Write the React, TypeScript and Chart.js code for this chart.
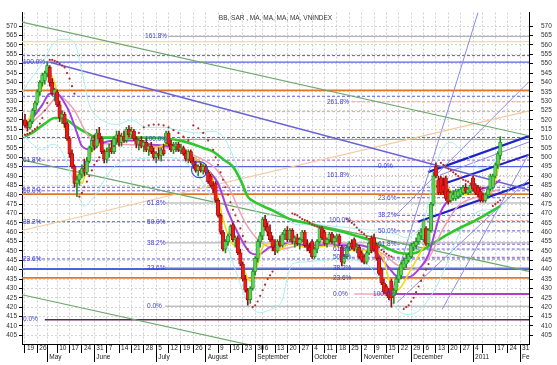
import React, { useEffect, useRef } from "react";
import { Chart, registerables } from "chart.js";

Chart.register(...registerables);

const TITLE = "BB, SAR , MA, MA, MA, MA, VNINDEX";
const FONT = '"Liberation Sans", Arial, sans-serif';

const X_MIN = -1.2;
const X_MAX = 203.6;
const Y_MIN = 400.3;
const Y_MAX = 577.3;

const yTickValues = [405, 410, 415, 420, 425, 430, 435, 440, 445, 450, 455, 460, 465, 470, 475, 480, 485, 490, 495, 500, 505, 510, 515, 520, 525, 530, 535, 540, 545, 550, 555, 560, 565, 570];

// first trading day index of each week
const weekTickIdx = [0, 5, 9, 13, 18, 23, 28, 33, 38, 43, 48, 53, 58, 63, 68, 73, 78, 83, 88, 93, 96, 101, 106, 111, 116, 121, 126, 131, 136, 141, 146, 151, 156, 161, 166, 171, 176, 181, 185, 190, 195, 200];
const weekDayLabels = ["19", "26", "", "10", "17", "24", "31", "7", "14", "21", "28", "5", "12", "19", "26", "2", "9", "16", "23", "30", "6", "13", "20", "27", "4", "11", "18", "25", "2", "9", "15", "22", "29", "6", "13", "20", "27", "4", "", "17", "24", "31"];
const weekMonthLabels = ["", "", "May", "", "", "", "June", "", "", "", "", "July", "", "", "", "August", "", "", "", "September", "", "", "", "", "October", "", "", "", "November", "", "", "", "December", "", "", "", "", "2011", "", "", "", "Fe"];
const monthTickIdx = [9, 28, 53, 73, 93, 116, 136, 156, 181, 200];

// daily candles (trading-day index = position in array)
const opens = [520,517,516,519,525,529,535,540,541,545,548,540,534,535,528,521,523,518,510,502,495,486,488,491,494,492,498,505,509,506,513,510,503,499,503,505,503,510,512,508,511,509,515,512,514,510,507,509,506,508,504,506,503,500,502,501,504,508,513,507,504,506,507,504,505,502,499,503,498,496,493,495,493,495,492,490,485,486,477,469,460,451,455,459,464,456,457,449,443,435,429,424,430,439,446,455,458,467,463,460,456,452,450,455,453,459,461,456,461,455,457,454,456,460,453,452,455,447,451,455,462,460,454,456,459,455,457,458,452,444,447,452,454,456,451,452,449,447,444,449,457,457,453,446,440,433,431,428,434,426,429,435,437,441,443,445,447,452,453,455,458,456,462,454,461,475,495,488,489,485,489,482,477,478,478,479,480,481,484,481,482,489,485,484,482,480,477,480,483,484,490,496,501];
const highs = [523,519,520,526,530,536,541,545,546,551,549,542,537,536,530,525,524,519,511,504,496,490,493,496,499,500,506,511,512,515,516,511,504,505,507,509,511,514,514,513,514,516,517,516,515,511,510,511,509,510,507,508,505,503,505,505,507,514,514,509,508,508,508,507,506,504,504,504,500,498,496,497,496,496,493,491,487,487,478,470,461,456,459,464,465,458,458,451,444,437,430,431,440,447,456,460,468,469,465,464,458,456,456,458,460,462,463,462,462,458,459,457,461,461,456,454,456,452,456,463,463,461,457,460,460,458,459,459,453,448,453,455,456,457,454,453,450,448,450,455,458,459,454,447,441,435,432,430,435,430,436,441,444,446,448,449,454,455,457,460,462,467,463,462,476,492,497,490,490,489,490,483,482,482,483,483,484,485,486,484,486,490,486,485,483,481,481,484,491,491,497,503,511];
const lows = [516,514,515,518,523,528,533,538,539,543,538,533,530,527,519,518,516,509,500,494,484,479,485,489,490,491,497,503,504,505,508,502,497,497,500,502,502,507,506,506,508,508,511,510,509,505,504,505,503,503,501,502,499,497,499,498,501,507,506,503,502,503,503,502,501,498,497,497,494,492,490,492,491,491,486,484,481,476,468,459,450,449,453,458,455,452,448,442,434,428,421,422,429,437,444,452,456,461,458,455,450,448,449,452,452,456,455,455,454,452,453,451,455,452,450,449,446,446,449,454,456,453,452,454,454,453,455,453,442,443,446,450,451,450,449,446,444,443,443,448,449,450,445,437,432,427,426,424,420,422,427,433,435,440,441,444,446,450,451,454,456,455,453,453,460,474,489,480,480,480,477,475,476,477,477,478,479,480,481,480,481,482,480,479,476,476,476,478,482,483,489,494,499];
const closes = [517,516,519,525,529,535,540,544,545,549,540,534,536,528,521,523,518,510,502,495,486,488,491,494,492,498,505,509,506,513,510,503,499,503,505,503,510,512,508,511,509,515,512,514,510,507,509,506,508,504,506,503,500,502,501,504,502,513,507,504,506,507,504,505,502,499,503,498,496,493,495,493,495,492,487,485,483,477,469,460,451,455,458,463,456,457,449,443,435,429,424,430,439,446,455,458,467,463,460,456,452,450,455,453,459,461,456,461,455,457,454,456,460,453,452,450,447,451,455,462,457,454,456,459,455,457,458,454,444,447,452,454,452,451,452,447,445,444,449,454,450,451,446,438,433,428,427,425,425,429,435,440,443,445,446,448,453,454,455,459,460,466,454,461,475,490,490,481,481,482,478,476,481,480,482,482,483,484,482,483,485,483,481,480,477,477,480,483,490,490,496,502,508];

// moving averages: [trading-day index, value]
const maFast: [number, number][] = [[0,517],[3,524],[5,530],[7,538],[9,546],[11,543],[13,535],[15,521],[17,511],[19,498],[21,490],[23,486],[25,495],[27,503],[30,507],[33,503],[36,507],[39,509],[42,511],[45,509],[49,507],[53,505],[57,507],[61,506],[65,503],[69,499],[73,495],[76,488],[78,478],[80,467],[83,455],[86,451],[88,442],[91,434],[94,443],[96,452],[99,454],[102,450],[107,454],[113,452],[118,452],[123,453],[129,451],[135,450],[141,451],[145,445],[147,435],[149,428],[152,431],[155,438],[158,445],[161,452],[163,456],[165,479],[167,488],[170,485],[174,480],[178,480],[182,483],[186,480],[189,484],[191,493],[192,500]];
const maMid: [number, number][] = [[0,517],[3,521],[7,528],[10,534],[13,534],[16,529],[18,524],[21,513],[23,506],[27,504],[30,507],[37,509],[44,509],[50,507],[57,506],[64,503],[70,498],[74,493],[78,486],[82,471],[87,457],[91,449],[94,448],[99,452],[106,454],[115,453],[122,453],[130,453],[135,453],[142,449],[147,441],[151,436],[155,436],[159,440],[163,448],[166,462],[168,471],[173,479],[178,481],[184,483],[189,485],[192,488]];
const maSlow: [number, number][] = [[0,515],[8,525],[14,533],[16,531],[20,525],[24,515],[28,508],[38,507],[50,506],[62,504],[70,500],[77,494],[83,482],[89,465],[95,455],[103,451],[115,454],[127,454],[139,452],[145,448],[151,442],[157,440],[163,446],[169,462],[175,474],[183,479],[192,483]];
const maLong: [number, number][] = [[0,511],[4,514],[8,518],[12,521],[15,521],[18,519],[21,516],[25,513],[28,511],[34,510.5],[46,510.5],[57,510],[64,508.5],[68,507],[72,505],[76,503],[80,499],[84,495],[87,488],[90,479],[93,476],[96,474],[101,471],[107,467],[115,464.5],[122,462],[129,460],[134,458],[139,456],[143,453.5],[146,451.6],[151,449],[155,448.5],[158,449],[162,451.6],[166,455],[171,459],[176,462.5],[181,465.6],[185,468.5],[188,470.8],[192,474]];

// Bollinger bands
const bbUpper: [number, number][] = [[-1,535],[3,543],[7,550],[11,560],[14,563],[17,563],[20,561],[23,546],[26,528],[30,521],[37,517.5],[43,520],[49,516],[55,516],[64,514],[70,513],[76,514],[80,511],[83,504],[86,494],[89,483],[92,474],[96,468],[100,470],[103,471],[106,467],[110,464],[118,464],[126,463],[134,462],[140,461],[146,460],[150,459],[154,457],[158,460],[162,470],[165,490],[168,503],[172,508],[176,504],[180,499],[184,494],[188,496],[192,503]];
const bbLower: [number, number][] = [[-1,512],[3,507],[7,504],[11,507],[14,505],[17,497],[20,486],[22,478],[24,474],[26,476],[29,481],[33,490],[38,497],[45,499],[55,500],[62,499],[66,496],[70,490],[74,482],[78,470],[82,452],[86,436],[89,425],[92,419],[95,417],[98,418],[101,420],[104,424],[106,436],[108,443],[112,444],[120,445],[128,446],[134,445],[139,442],[143,435],[147,425],[151,418],[155,416],[159,418],[163,424],[167,433],[171,445],[175,458],[179,466],[183,471],[187,472],[192,473]];

// parabolic SAR
const sarPoints: [number, number][] = [[0,512],[1,512.5],[2,513],[3,514],[4,515],[5,516],[6,518],[7,521],[8,525],[9,529],[10,552],[11,552],[12,551.5],[13,551],[14,550],[15,549],[16,548],[17,545],[18,542],[19,538],[20,534],[22,479],[23,481],[24,484],[25,487],[26,490],[27,493],[28,496],[29,498],[30,500],[32,502],[34,504],[36,506],[38,508],[40,510],[42,511],[44,512],[46,513],[48,516],[50,517],[52,517.5],[54,517.5],[56,517],[58,516],[60,514.5],[62,513],[64,511],[66,509],[68,517],[70,515.5],[72,513],[74,509],[76,504],[77,500],[78,496],[79,492],[80,488],[81,484],[82,480],[83,476],[84,472],[85,469],[86,466],[87,462],[88,458],[89,455],[90,451],[92,420],[93,421],[94,423],[95,426],[96,429],[97,432],[98,435],[99,437],[100,439],[108,470],[109,469.5],[110,469],[111,468],[112,467],[113,466.5],[114,466],[115,465],[116,464],[117,463.5],[118,463],[119,462.5],[120,462],[130,467],[131,466],[132,465],[133,464],[134,462.5],[135,461],[136,460],[137,459],[138,457.5],[139,456.5],[140,455],[141,454],[142,453],[143,452],[144,450.5],[145,449.5],[146,448.5],[147,447.5],[148,447],[153,419],[154,420],[155,421],[156,423],[157,425],[158,428],[159,431],[160,434],[161,437],[162,440],[163,443],[168,497],[169,496],[170,495],[171,494],[172,493],[173,492],[174,491],[175,490],[176,489],[177,488],[178,487.5],[179,487],[180,486],[181,485.5],[182,485],[183,484.5],[184,484],[185,483.5],[189,474],[190,475],[191,476],[192,477]];

// horizontal levels (value, from index, to index)
const levelValues = [564.6, 561.8, 554.3, 550.8, 535.7, 532.6, 529.6, 524.4, 510.6, 509.5, 498.5, 495.0, 490.2, 484.0, 482.1, 480.3, 478.4, 475.6, 469.0, 466.2, 465.6, 460.7, 454.3, 453.6, 451.0, 446.6, 445.7, 441.0, 440.3, 435.6, 427.0, 427.0, 420.5, 413.3];
const levelFrom = [57.8, X_MIN, X_MIN, X_MIN, X_MIN, X_MIN, 132.1, X_MIN, X_MIN, 57.4, X_MIN, X_MIN, 131.3, X_MIN, X_MIN, X_MIN, 150.3, 56.6, 150.3, 131.5, X_MIN, 150.3, 56.6, 150.3, 132, 132, X_MIN, 56.6, X_MIN, X_MIN, 147, 133, 56.6, 8];
const levelTo = [X_MAX, X_MAX, X_MAX, X_MAX, X_MAX, X_MAX, X_MAX, X_MAX, X_MAX, X_MAX, X_MAX, X_MAX, X_MAX, X_MAX, X_MAX, X_MAX, X_MAX, X_MAX, X_MAX, X_MAX, X_MAX, X_MAX, X_MAX, X_MAX, X_MAX, X_MAX, X_MAX, X_MAX, X_MAX, X_MAX, X_MAX, 146, X_MAX, X_MAX];
const levelKind = ["gray", "yellow", "blueDash", "blueSolid", "orange", "blueDash", "salmonDash", "salmonDash", "blueDash", "gray", "purpleDash", "blueSolid", "salmonDot", "blueDash", "purpleDash", "orange", "blueDash", "gray", "blueDash", "salmonDash", "blueDash", "blueDash", "gray", "purpleDash", "blueDash", "purpleDash", "blueDash", "gray", "blueThick", "orange", "purpleThick", "pink", "gray", "darkPurple"];

// trend lines [index, value] start / end
const trendStart: [number, number][] = [[-1.2, 572.2], [-1.2, 498.6], [-1.2, 426.6], [10.1, 550.8], [-1.2, 460.9], [147, 423], [149.5, 468.7], [150.3, 422.5], [168.5, 418.8], [162.8, 492.1], [167.7, 490.5], [165.7, 484.3], [158.8, 465.6]];
const trendEnd: [number, number][] = [[203.6, 511.5], [203.6, 439.1], [100, 397.1], [203.6, 482.5], [203.6, 524.8], [183, 577.3], [203.6, 540.4], [203.6, 488.4], [203.6, 502], [203.6, 511.3], [203.6, 508.2], [203.6, 501.4], [203.6, 486.4]];
const trendKind = ["green", "green", "green", "violet", "peach", "thin", "thin", "thin", "thin", "thick", "thin", "thick", "thick"];

// circled area
const circlePoint: [number, number][] = [[70.5, 493.4]];

// fibonacci labels
const fibText = ["161.8%", "100.0%", "261.8%", "100.0%", "61.8%", "0.0%", "161.8%", "50.0%", "23.6%", "61.8%", "38.2%", "38.2%", "50.0%", "100.0%", "50.0%", "38.2%", "61.8%", "61.8%", "50.0%", "23.6%", "23.6%", "38.2%", "23.6%", "0.0%", "100.0%", "0.0%", "0.0%"];
const fibIdx = [48.5, -0.8, 122, 48.5, -0.8, 142.6, 122, -0.8, 142.6, 49.3, 142.6, -0.8, 49.3, 122.8, 142.6, 49.3, 142.6, 124.4, 124.4, -0.8, 49.3, 124.4, 124.4, 124.4, 140.6, 49.3, -0.8];
const fibValue = [564.6, 550.8, 529.6, 509.8, 498.5, 495.0, 490.2, 482.1, 478.4, 475.6, 469.0, 465.6, 465.6, 466.2, 460.7, 454.3, 453.6, 451.0, 446.6, 445.7, 441.0, 441.0, 435.6, 427.0, 427.0, 420.5, 413.3];

const LEVEL_STYLE: Record<string, { c: string; w: number; d: number[] }> = {
  gray: { c: "#a4a4a4", w: 1, d: [] },
  yellow: { c: "#f2e27a", w: 1.3, d: [] },
  blueDash: { c: "#5a5ad8", w: 1, d: [3, 2] },
  blueSolid: { c: "#5a64dc", w: 1.4, d: [] },
  orange: { c: "#e0782a", w: 1.8, d: [] },
  salmonDash: { c: "#f0a090", w: 1, d: [3, 2] },
  salmonDot: { c: "#f0a090", w: 1, d: [1, 2] },
  purpleDash: { c: "#8c5ad0", w: 1, d: [3, 2] },
  blueThick: { c: "#4e62e0", w: 2, d: [] },
  purpleThick: { c: "#b23cc4", w: 2, d: [] },
  pink: { c: "#f07c90", w: 1, d: [] },
  darkPurple: { c: "#6c2050", w: 1.5, d: [] },
};
const TREND_STYLE: Record<string, { c: string; w: number }> = {
  green: { c: "#6aa86a", w: 1.2 },
  violet: { c: "#6a62d6", w: 1.5 },
  peach: { c: "#f5c9a0", w: 1.2 },
  thin: { c: "#8c8ce6", w: 1 },
  thick: { c: "#1c24c6", w: 2.2 },
};

const toXY = (arr: [number, number][]) => arr.map(([x, y]) => ({ x, y }));

const fibLabelPlugin = {
  id: "fibLabels",
  afterDatasetsDraw(chart: any) {
    const { ctx, scales } = chart;
    const xs = scales.x;
    const ys = scales.y;
    ctx.save();
    ctx.font = `6.5px ${FONT}`;
    ctx.fillStyle = "#3a3ad2";
    ctx.textAlign = "left";
    ctx.textBaseline = "middle";
    fibText.forEach((t, i) => {
      ctx.fillText(t, xs.getPixelForValue(fibIdx[i]), ys.getPixelForValue(fibValue[i]));
    });
    ctx.fillStyle = "#333333";
    ctx.textAlign = "center";
    const ca = chart.chartArea;
    ctx.fillText(TITLE, (ca.left + ca.right) / 2, ca.top + 6);
    ctx.restore();
  },
};

export default function App() {
  const canvasRef = useRef<HTMLCanvasElement | null>(null);

  useEffect(() => {
    document.body.style.margin = "0";
    const canvas = canvasRef.current;
    if (!canvas) return;

    const datasets: any[] = [];

    levelValues.forEach((v, i) => {
      const s = LEVEL_STYLE[levelKind[i]];
      datasets.push({
        type: "line",
        label: "level" + i,
        data: [{ x: levelFrom[i], y: v }, { x: levelTo[i], y: v }],
        borderColor: s.c,
        borderWidth: s.w,
        borderDash: s.d,
        pointRadius: 0,
        fill: false,
        order: 100,
      });
    });

    trendStart.forEach((p, i) => {
      const s = TREND_STYLE[trendKind[i]];
      datasets.push({
        type: "line",
        label: "trend" + i,
        data: [{ x: p[0], y: p[1] }, { x: trendEnd[i][0], y: trendEnd[i][1] }],
        borderColor: s.c,
        borderWidth: s.w,
        pointRadius: 0,
        fill: false,
        order: 95,
      });
    });

    const curve = (label: string, pts: [number, number][], color: string, width: number, order: number) => ({
      type: "line",
      label,
      data: toXY(pts),
      borderColor: color,
      borderWidth: width,
      pointRadius: 0,
      tension: 0.4,
      cubicInterpolationMode: "monotone",
      fill: false,
      order,
    });

    datasets.push(curve("BB upper", bbUpper, "#a8eeee", 1, 90));
    datasets.push(curve("BB lower", bbLower, "#a8eeee", 1, 90));
    datasets.push(curve("MA long", maLong, "#2ec82e", 2.6, 60));
    datasets.push(curve("MA slow", maSlow, "#eda0b4", 1.5, 58));
    datasets.push(curve("MA mid", maMid, "#a440e0", 2, 56));
    datasets.push(curve("MA fast", maFast, "#f2dc10", 1.6, 54));

    const isUp = (i: number) => closes[i] >= opens[i];
    const fillCol = opens.map((_, i) => (isUp(i) ? "#5ad25a" : "#ee1a1a"));
    const edgeCol = opens.map((_, i) => (isUp(i) ? "#238c23" : "#941010"));

    datasets.push({
      type: "bar",
      label: "wick",
      data: opens.map((_, i) => ({ x: i, y: [lows[i], highs[i]] })),
      backgroundColor: edgeCol,
      borderWidth: 0,
      barThickness: 1,
      grouped: false,
      order: 22,
    });
    datasets.push({
      type: "bar",
      label: "body",
      data: opens.map((o, i) => ({ x: i, y: [o, closes[i]] })),
      backgroundColor: fillCol,
      borderColor: edgeCol,
      borderWidth: 0.7,
      borderSkipped: false,
      barThickness: 3.4,
      minBarLength: 1,
      grouped: false,
      order: 20,
    });

    datasets.push({
      type: "scatter",
      label: "SAR",
      data: toXY(sarPoints),
      pointRadius: 1.1,
      pointBackgroundColor: "#b8282a",
      pointBorderWidth: 0,
      order: 10,
    });
    datasets.push({
      type: "scatter",
      label: "circle",
      data: toXY(circlePoint),
      pointRadius: 8,
      pointBackgroundColor: "rgba(0,0,0,0)",
      pointBorderColor: "#3050d6",
      pointBorderWidth: 1.2,
      order: 5,
    });

    const tickFont = { family: FONT, size: 6.5, lineHeight: 1.4 };
    const setWeeks = (s: any) => {
      s.ticks = weekTickIdx.map((v) => ({ value: v }));
    };
    const setMonths = (s: any) => {
      s.ticks = monthTickIdx.map((v) => ({ value: v }));
    };
    const setY = (s: any) => {
      s.ticks = yTickValues.map((v) => ({ value: v }));
    };

    const chart = new Chart(canvas, {
      type: "bar",
      data: { datasets },
      plugins: [fibLabelPlugin],
      options: {
        animation: false,
        responsive: true,
        maintainAspectRatio: false,
        devicePixelRatio: 1,
        events: [],
        layout: { padding: { top: 5, left: 0, right: 0, bottom: 0 } },
        plugins: { legend: { display: false }, tooltip: { enabled: false }, title: { display: false } },
        scales: {
          x: {
            type: "linear",
            position: "bottom",
            min: X_MIN,
            max: X_MAX,
            offset: false,
            weight: 2,
            afterBuildTicks: setWeeks,
            afterFit: (s: any) => {
              s.height = 21;
            },
            grid: { display: false, drawTicks: false, offset: false },
            border: { display: false },
            ticks: {
              autoSkip: false,
              maxRotation: 0,
              minRotation: 0,
              align: "start",
              labelOffset: 2,
              padding: 0,
              color: "#222222",
              font: tickFont,
              callback: (_v: any, i: number) => [weekDayLabels[i], weekMonthLabels[i]],
            },
          },
          x2: {
            type: "linear",
            position: "bottom",
            min: X_MIN,
            max: X_MAX,
            offset: false,
            weight: 0,
            afterBuildTicks: setWeeks,
            afterFit: (s: any) => {
              s.height = 0;
            },
            grid: { color: "#cfcfcf", offset: false, drawTicks: true, tickLength: 9, tickColor: "#000000", tickBorderDash: [] },
            border: { color: "#000000", dash: [2, 2] },
            ticks: { display: false },
          },
          x3: {
            type: "linear",
            position: "bottom",
            min: X_MIN,
            max: X_MAX,
            offset: false,
            weight: 1,
            afterBuildTicks: setMonths,
            afterFit: (s: any) => {
              s.height = 0;
            },
            grid: { drawOnChartArea: false, offset: false, drawTicks: true, tickLength: 18, tickColor: "#000000" },
            border: { display: false },
            ticks: { display: false },
          },
          y: {
            type: "linear",
            position: "left",
            min: Y_MIN,
            max: Y_MAX,
            afterBuildTicks: setY,
            afterFit: (s: any) => {
              s.width = 22;
            },
            grid: { color: "#d4d4d4", drawTicks: true, tickLength: 3, tickColor: "#000000", tickBorderDash: [] },
            border: { color: "#000000", dash: [2, 2] },
            ticks: { autoSkip: false, padding: 2, color: "#333333", font: tickFont },
          },
          y2: {
            type: "linear",
            position: "right",
            min: Y_MIN,
            max: Y_MAX,
            afterBuildTicks: setY,
            afterFit: (s: any) => {
              s.width = 28;
            },
            grid: { drawOnChartArea: false, drawTicks: true, tickLength: 4, tickColor: "#000000" },
            border: { color: "#000000" },
            ticks: { autoSkip: false, padding: 8, color: "#333333", font: tickFont },
          },
        },
      } as any,
    });

    return () => {
      chart.destroy();
    };
  }, []);

  return (
    <div style={{ width: 557, height: 365, position: "relative", background: "#ffffff" }}>
      <canvas ref={canvasRef} />
    </div>
  );
}
